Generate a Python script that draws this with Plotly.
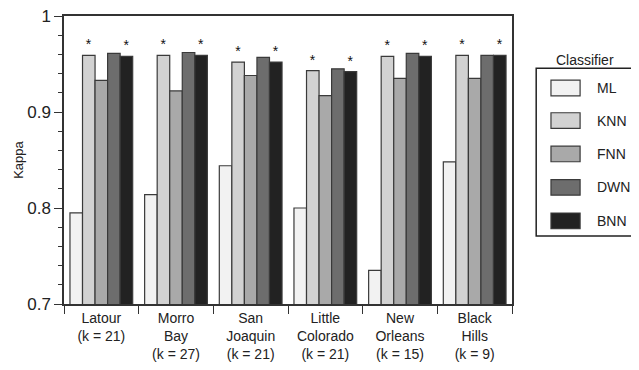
import plotly.graph_objects as go

sites = ["Latour<br>(k = 21)", "Morro<br>Bay<br>(k = 27)", "San<br>Joaquin<br>(k = 21)",
         "Little<br>Colorado<br>(k = 21)", "New<br>Orleans<br>(k = 15)", "Black<br>Hills<br>(k = 9)"]
classifiers = ["ML", "KNN", "FNN", "DWN", "BNN"]
ml = [0.795, 0.814, 0.844, 0.800, 0.735, 0.848]
knn = [0.959, 0.959, 0.952, 0.943, 0.958, 0.959]
fnn = [0.933, 0.922, 0.938, 0.917, 0.935, 0.935]
dwn = [0.961, 0.962, 0.957, 0.945, 0.961, 0.959]
bnn = [0.958, 0.959, 0.952, 0.942, 0.958, 0.959]
significant = ["KNN", "BNN"]

series = [ml, knn, fnn, dwn, bnn]
colors = ["#f2f2f2", "#d2d2d2", "#a9a9a9", "#6d6d6d", "#222222"]

fig = go.Figure()
for name, vals, col in zip(classifiers, series, colors):
    star = name in significant
    fig.add_trace(go.Bar(
        x=sites, y=vals, name=name,
        marker=dict(color=col, line=dict(color="#3a3a3a", width=1.2)),
        text=["*"] * len(vals) if star else None,
        textposition="outside", cliponaxis=False,
        textfont=dict(size=14, color="#111", family="Liberation Sans"),
        showlegend=False,
    ))

# page body has an 8px default margin, so the figure is sized/offset to compensate
fig.update_layout(
    width=631, height=362,
    margin=dict(l=56, r=127, t=8, b=66),
    barmode="group", bargap=0.16, bargroupgap=0,
    plot_bgcolor="white", paper_bgcolor="white",
    font=dict(family="Liberation Sans", color="#222"),
)
fig.update_xaxes(
    automargin=False, ticklabeloverflow="allow",
    showline=True, linecolor="#333", linewidth=1.5, mirror=True,
    ticks="outside", tickson="boundaries", ticklen=8, tickcolor="#333", tickwidth=1.3,
    tickfont=dict(size=14, color="#222"),
)
fig.update_yaxes(
    automargin=False, ticklabeloverflow="allow",
    range=[0.7, 1.0], tickvals=[0.7, 0.8, 0.9, 1.0], ticktext=["0.7", "0.8", "0.9", "1"],
    showline=True, linecolor="#333", linewidth=1.5, mirror=True,
    ticks="outside", ticklen=8, tickcolor="#333", tickwidth=1.3,
    minor=dict(dtick=0.02, tick0=0.7, ticks="outside", ticklen=4, tickcolor="#333", showgrid=False),
    showgrid=False, zeroline=False,
    tickfont=dict(size=17, color="#222"),
)

# manual legend
shapes = [dict(type="rect", xref="paper", yref="paper", x0=1.054, x1=1.35, y0=0.236, y1=0.819,
               line=dict(color="#222", width=1.5), fillcolor="white")]
annotations = [
    dict(text="Classifier", xref="paper", yref="paper", x=1.163, y=0.848,
         showarrow=False, font=dict(size=14, color="#222"), xanchor="center", yanchor="middle"),
    dict(text="Kappa", xref="paper", yref="paper", x=-0.103, y=0.5, textangle=-90,
         showarrow=False, font=dict(size=13, color="#222"), xanchor="center", yanchor="middle"),
]
ys = [0.75, 0.637, 0.521, 0.405, 0.289]
for name, col, yc in zip(classifiers, colors, ys):
    shapes.append(dict(type="rect", xref="paper", yref="paper", x0=1.087, x1=1.152,
                       y0=yc - 0.027, y1=yc + 0.027, fillcolor=col, line=dict(color="#3a3a3a", width=1.2)))
    annotations.append(dict(text=name, xref="paper", yref="paper", x=1.185, y=yc, showarrow=False,
                            xanchor="left", yanchor="middle", font=dict(size=14, color="#222")))
fig.update_layout(shapes=shapes, annotations=annotations)

fig.write_html("out.html")
